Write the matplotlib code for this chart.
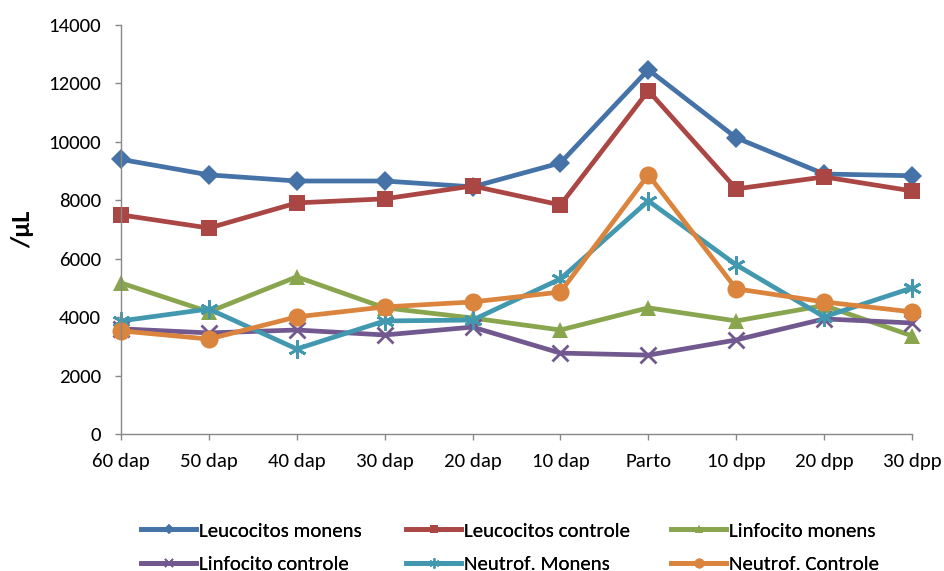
import matplotlib
matplotlib.use("Agg")
import matplotlib.pyplot as plt
from matplotlib.lines import Line2D

categories = ["60 dap", "50 dap", "40 dap", "30 dap", "20 dap", "10 dap",
              "Parto", "10 dpp", "20 dpp", "30 dpp"]
leuco_monens = [9400, 8870, 8660, 8660, 8460, 9280, 12470, 10140, 8900, 8840]
leuco_controle = [7500, 7050, 7910, 8050, 8490, 7840, 11750, 8390, 8800, 8320]
linf_monens = [5170, 4180, 5380, 4320, 3970, 3560, 4320, 3870, 4400, 3360]
linf_controle = [3600, 3460, 3560, 3390, 3660, 2770, 2700, 3220, 3940, 3800]
neut_monens = [3870, 4280, 2910, 3870, 3900, 5310, 7980, 5790, 4010, 5000]
neut_controle = [3530, 3250, 4010, 4350, 4520, 4860, 8870, 4970, 4520, 4180]
series_names = ["Leucocitos monens", "Leucocitos controle", "Linfocito monens",
                "Linfocito controle", "Neutrof. Monens", "Neutrof. Controle"]
yticks = [0, 2000, 4000, 6000, 8000, 10000, 12000, 14000]

plt.rcParams['font.family'] = ['Carlito', 'DejaVu Sans']

fig = plt.figure(figsize=(9.44, 5.71), dpi=100)
ax = fig.add_axes([121/944, 1-434/571, (912-121)/944, (434-25)/571])

styles = [
    dict(color="#4572A7", marker="D", ms=10, mew=0),
    dict(color="#AA4643", marker="s", ms=11, mew=0),
    dict(color="#89A54E", marker="^", ms=11, mew=0),
    dict(color="#71588F", marker="x", ms=11, mew=2),
    dict(color="#4198AF", marker=(6, 2, 0), ms=13, mew=2),
    dict(color="#DB843D", marker="o", ms=13, mew=0),
]
data = [leuco_monens, leuco_controle, linf_monens, linf_controle, neut_monens, neut_controle]
x = list(range(len(categories)))
for vals, st, name in zip(data, styles, series_names):
    ax.plot(x, vals, color=st["color"], lw=3.4, marker=st["marker"], ms=st["ms"],
            mew=st["mew"], mec=st["color"], mfc=st["color"], clip_on=False, label=name)

ax.set_xlim(0, len(categories) - 1)
ax.set_ylim(0, 14000)
ax.set_xticks(x)
ax.set_xticklabels(categories, fontsize=15, color="black")
ax.set_yticks(yticks)
ax.set_yticklabels([str(v) for v in yticks], fontsize=15, color="black")
for s in ["top", "right"]:
    ax.spines[s].set_visible(False)
for s in ["left", "bottom"]:
    ax.spines[s].set_color("#888888")
    ax.spines[s].set_linewidth(1)
ax.tick_params(axis="both", color="#888888", length=4.5, width=1, direction="out")
ax.tick_params(axis="y", pad=10)
ax.tick_params(axis="x", pad=9)
ax.set_ylabel("/µL", fontsize=19, fontweight="bold", labelpad=10)

handles = []
for st, name in zip(styles, series_names):
    handles.append(Line2D([0], [0], color=st["color"], lw=3.4, marker=st["marker"],
                          ms=st["ms"] * 0.55, mew=st["mew"] * 0.6, mec=st["color"],
                          mfc=st["color"], label=name))

col_x = [141, 406, 671]
for c in range(3):
    leg = fig.legend(handles=[handles[c], handles[c + 3]], loc="upper left",
                     bbox_to_anchor=(col_x[c]/944, 1-522/571),
                     ncol=1, frameon=False, fontsize=15,
                     handlelength=2.65, handletextpad=0.15,
                     labelspacing=0.78, borderaxespad=0, borderpad=0)
    fig.add_artist(leg)

fig.savefig("out.png", dpi=100)
